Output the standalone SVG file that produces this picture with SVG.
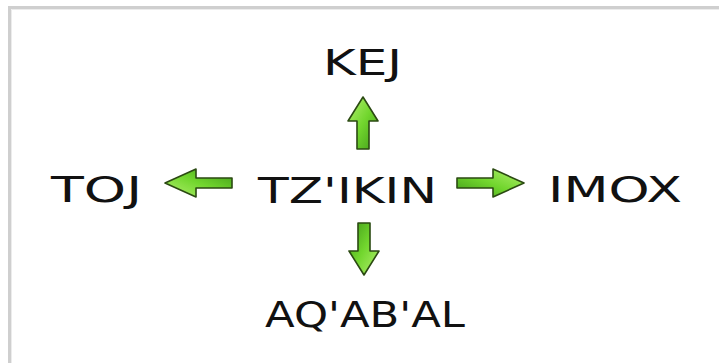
<svg xmlns="http://www.w3.org/2000/svg" width="719" height="363" viewBox="0 0 719 363">
<style>
.lbl{font-family:"DejaVu Sans","Liberation Sans",sans-serif;font-size:35px;fill:#111;text-anchor:middle}
.arr{fill:url(#g);stroke:#2b4a12;stroke-width:1.6;stroke-linejoin:round}
</style>
<defs>
<linearGradient id="g" x1="0" y1="0" x2="1" y2="1">
<stop offset="0" stop-color="#b4f070"/>
<stop offset="0.5" stop-color="#72d62e"/>
<stop offset="1" stop-color="#3f9a18"/>
</linearGradient>
<path id="arrowV" d="M0,0 L15,24 L6,24 L6,52 L-6,52 L-6,24 L-15,24 Z"/>
<path id="arrowH" d="M0,0 L14,31 L5,31 L5,67 L-5,67 L-5,31 L-14,31 Z"/>
</defs>
<rect width="719" height="363" fill="#fff"/>
<polyline points="9.5,363 9.5,7.5 719,7.5" fill="none" stroke="#cfcfcf" stroke-width="3"/>
<polyline points="11.5,363 11.5,9.5 719,9.5" fill="none" stroke="#ececec" stroke-width="1"/>
<g id="connectors">
<use href="#arrowV" class="arr" transform="translate(363,97)"/>
<use href="#arrowV" class="arr" transform="translate(364,275) rotate(180)"/>
<use href="#arrowH" class="arr" transform="translate(165,183) rotate(-90)"/>
<use href="#arrowH" class="arr" transform="translate(524,183) rotate(90)"/>
</g>
<g id="node-kej"><text class="lbl" x="362.5" y="75" textLength="79" lengthAdjust="spacingAndGlyphs">KEJ</text></g>
<g id="node-toj"><text class="lbl" x="96.5" y="202" textLength="91" lengthAdjust="spacingAndGlyphs">TOJ</text></g>
<g id="node-tzikin"><text class="lbl" x="347.5" y="203" textLength="179" lengthAdjust="spacingAndGlyphs">TZ'IKIN</text></g>
<g id="node-imox"><text class="lbl" x="615" y="202" textLength="134" lengthAdjust="spacingAndGlyphs">IMOX</text></g>
<g id="node-aqabal"><text class="lbl" x="365" y="327" textLength="200" lengthAdjust="spacingAndGlyphs">AQ'AB'AL</text></g>
</svg>
